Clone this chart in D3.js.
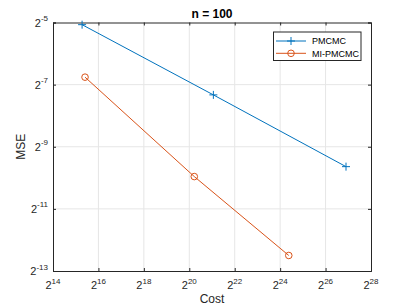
<!DOCTYPE html>
<html><head><meta charset="utf-8">
<script src="https://cdn.jsdelivr.net/npm/d3@7"></script>
<style>body{margin:0;background:#fff}svg{display:block}text{font-family:"Liberation Sans",Arial,Helvetica,sans-serif}</style>
</head><body><svg id="c" width="409" height="307"></svg>
<script>
const seriesNames = ["PMCMC", "MI-PMCMC"];
const pmcmcCost = [39800, 2186000, 125200000];
const pmcmcMSE = [0.02977, 0.006215, 0.001253];
const miCost = [43540, 1221300, 21832000];
const miMSE = [0.009229, 0.001004, 0.0001726];
const xTickExps = [14, 16, 18, 20, 22, 24, 26, 28];
const yTickExps = [-13, -11, -9, -7, -5];
const colors = ["#0072BD", "#D95319"];

const svg = d3.select("#c");
const L = 53, R = 371, T = 22.5, B = 271;
const x = d3.scaleLog().base(2).domain([2**14, 2**28]).range([L, R]);
const y = d3.scaleLog().base(2).domain([2**-13, 2**-5]).range([B, T]);
const axisColor = "#262626";

// grid
const g = svg.append("g");
g.selectAll(".gx").data(xTickExps.slice(1, -1)).enter().append("line")
  .attr("x1", d => x(2**d)).attr("x2", d => x(2**d)).attr("y1", T).attr("y2", B)
  .attr("stroke", "#e6e6e6").attr("stroke-width", 1);
g.selectAll(".gy").data(yTickExps.slice(1, -1)).enter().append("line")
  .attr("y1", d => y(2**d)).attr("y2", d => y(2**d)).attr("x1", L).attr("x2", R)
  .attr("stroke", "#e6e6e6").attr("stroke-width", 1);

// axes with inward ticks
const xAxis = d3.axisBottom(x).tickValues(xTickExps.map(e => 2**e)).tickSize(-3).tickFormat("");
const xAxisTop = d3.axisTop(x).tickValues(xTickExps.map(e => 2**e)).tickSize(-3).tickFormat("");
const yAxis = d3.axisLeft(y).tickValues(yTickExps.map(e => 2**e)).tickSize(-3).tickFormat("");
const yAxisR = d3.axisRight(y).tickValues(yTickExps.map(e => 2**e)).tickSize(-3).tickFormat("");
[[xAxis, `translate(0,${B})`], [xAxisTop, `translate(0,${T})`], [yAxis, `translate(${L},0)`], [yAxisR, `translate(${R},0)`]].forEach(([ax, tr]) => {
  const a = svg.append("g").attr("transform", tr).call(ax);
  a.select(".domain").attr("stroke", axisColor).attr("stroke-width", 1);
  a.selectAll(".tick line").attr("stroke", axisColor);
});

// tick labels
const xl = svg.append("g").selectAll("text").data(xTickExps).enter().append("text")
  .attr("x", d => x(2**d)).attr("y", 289).attr("text-anchor", "middle")
  .attr("fill", axisColor).attr("font-size", 11);
xl.append("tspan").text("2");
xl.append("tspan").attr("dy", -5.5).attr("font-size", 8).text(d => d);

const yl = svg.append("g").selectAll("text").data(yTickExps).enter().append("text")
  .attr("x", 48).attr("y", d => y(2**d) + 4).attr("text-anchor", "end")
  .attr("fill", axisColor).attr("font-size", 11);
yl.append("tspan").text("2");
yl.append("tspan").attr("dy", -5.5).attr("font-size", 8).text(d => d);

// labels
svg.append("text").attr("x", (L + R) / 2).attr("y", 303).attr("text-anchor", "middle")
  .attr("font-size", 12).attr("fill", axisColor).text("Cost");
svg.append("text").attr("transform", `translate(25,${(T + B) / 2}) rotate(-90)`).attr("text-anchor", "middle")
  .attr("font-size", 12).attr("fill", axisColor).text("MSE");
svg.append("text").attr("x", (L + R) / 2).attr("y", 18).attr("text-anchor", "middle")
  .attr("font-size", 12).attr("font-weight", "bold").attr("fill", "#000").text("n = 100");

// series
const series = [
  pmcmcCost.map((c, i) => [c, pmcmcMSE[i]]),
  miCost.map((c, i) => [c, miMSE[i]])
];
const line = d3.line().x(d => x(d[0])).y(d => y(d[1]));
function plus(sel, cx, cy, col) {
  sel.append("path").attr("d", `M${cx - 4},${cy}H${cx + 4}M${cx},${cy - 4}V${cy + 4}`)
    .attr("stroke", col).attr("stroke-width", 1).attr("fill", "none");
}
function circ(sel, cx, cy, col) {
  sel.append("circle").attr("cx", cx).attr("cy", cy).attr("r", 3.3)
    .attr("stroke", col).attr("stroke-width", 1).attr("fill", "none");
}
series.forEach((s, k) => {
  svg.append("path").datum(s).attr("d", line).attr("fill", "none")
    .attr("stroke", colors[k]).attr("stroke-width", 1);
  s.forEach(d => (k === 0 ? plus : circ)(svg, x(d[0]), y(d[1]), colors[k]));
});

// legend
const lg = svg.append("g");
lg.append("rect").attr("x", 273.5).attr("y", 32).attr("width", 87.5).attr("height", 28.5)
  .attr("fill", "#fff").attr("stroke", axisColor).attr("stroke-width", 1);
seriesNames.forEach((n, k) => {
  const yy = 41 + k * 12.3;
  lg.append("line").attr("x1", 276).attr("x2", 306).attr("y1", yy).attr("y2", yy)
    .attr("stroke", colors[k]).attr("stroke-width", 1);
  (k === 0 ? plus : circ)(lg, 291, yy, colors[k]);
  lg.append("text").attr("x", 312).attr("y", yy + 3.3).attr("font-size", 9)
    .attr("fill", "#000").text(n);
});
</script></body></html>
